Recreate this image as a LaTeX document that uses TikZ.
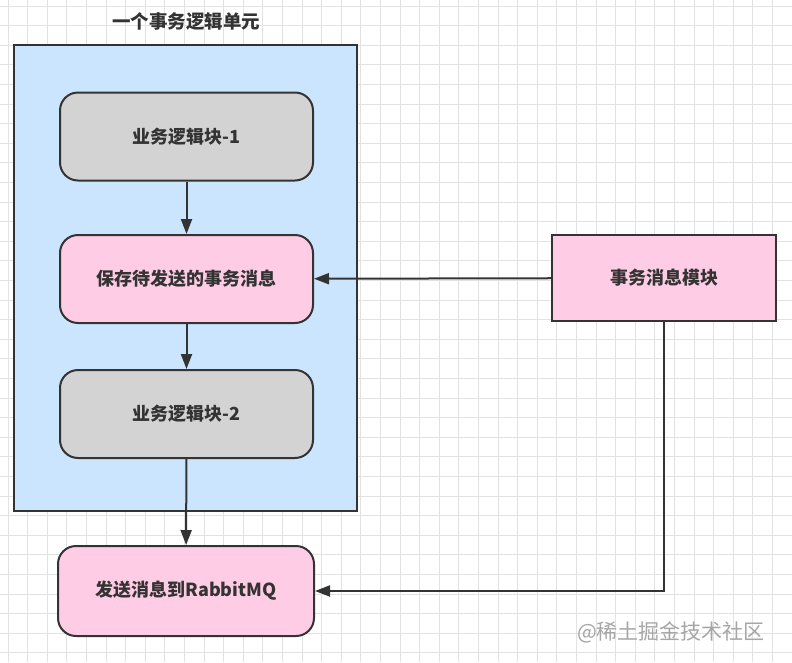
\documentclass[tikz,border=0pt]{standalone}
\usepackage{fontspec}
\setmainfont{Noto Sans CJK SC}
\usetikzlibrary{arrows.meta}
\definecolor{gridc}{HTML}{E2E2E2}
\definecolor{bluebg}{HTML}{CCE5FF}
\definecolor{grayfill}{HTML}{D3D3D3}
\definecolor{pinkfill}{HTML}{FFCCE6}
\definecolor{edge}{HTML}{333333}
\definecolor{txt}{HTML}{333333}
\tikzset{
  px/.style={x=1pt,y=-1pt},
  lbl/.style={font=\fontsize{18}{20}\selectfont\bfseries,text=txt},
  rbox/.style={draw=edge,line width=2pt,rounded corners=18pt,minimum width=253pt,minimum height=88pt,lbl},
  graybox/.style={rbox,fill=grayfill},
  pinkbox/.style={rbox,fill=pinkfill},
  conn/.style={draw=edge,line width=2pt,-{Triangle[length=15pt,width=11pt]}}
}
\begin{document}
\begin{tikzpicture}[px]
\useasboundingbox (0,0) rectangle (792,662);
\fill[white] (0,0) rectangle (792,662);
\foreach \i in {0,...,40} {\draw[gridc,line width=0.8pt] (8+\i*19.6,0) -- (8+\i*19.6,662);}
\foreach \j in {0,...,34} {\draw[gridc,line width=0.8pt] (0,6+\j*19.6) -- (792,6+\j*19.6);}
\node[font=\fontsize{18.5}{20}\selectfont\bfseries,text=txt] (title) at (186,22) {一个事务逻辑单元};
\node[draw=edge,line width=2pt,fill=bluebg,minimum width=343pt,minimum height=466pt] (unit) at (185.5,278) {};
\node[graybox] (b1) at (186.5,136.5) {业务逻辑块-1};
\node[pinkbox] (b2) at (186.5,279) {保存待发送的事务消息};
\node[graybox] (b3) at (186.5,414) {业务逻辑块-2};
\node[pinkbox,minimum width=256pt,minimum height=90pt] (b4) at (186,591) {发送消息到RabbitMQ};
\node[draw=edge,line width=2pt,fill=pinkfill,minimum width=224pt,minimum height=86pt,lbl] (mod) at (664,278) {事务消息模块};
\draw[conn] (b1) -- (b2);
\draw[conn] (b2) -- (b3);
\draw[conn] (b3) -- (b4);
\draw[conn] (mod) -- (b2);
\draw[conn] (mod.south) |- (b4.east);
\node[font=\fontsize{21}{23}\selectfont,text=black!35] (wm) at (671,632) {@稀土掘金技术社区};
\end{tikzpicture}
\end{document}
